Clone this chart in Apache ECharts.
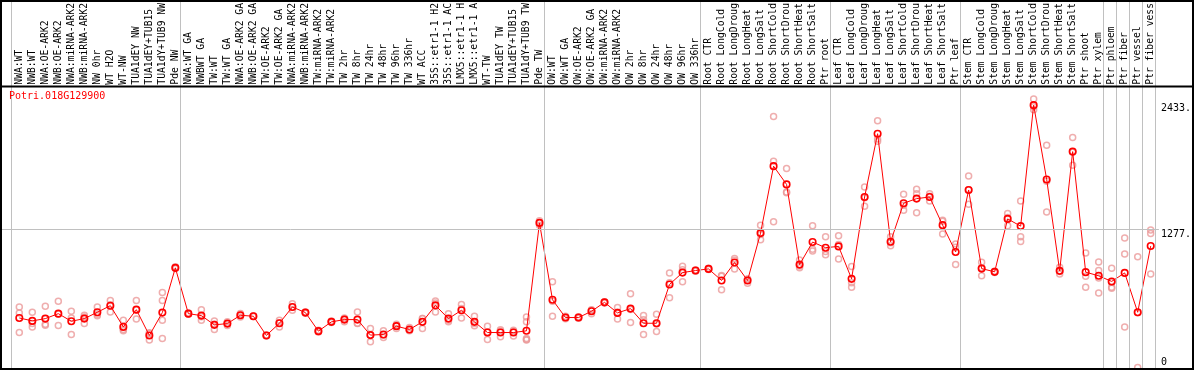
<!DOCTYPE html>
<html><head><meta charset="utf-8">
<script src="https://cdn.jsdelivr.net/npm/echarts@6/dist/echarts.min.js"></script>
<style>html,body{margin:0;padding:0;background:#fff}#c{width:1194px;height:370px}</style>
</head><body><div id="c"></div><script>
const geneId = 'Potri.018G129900';
const categories = [
 'NWA:WT','NWB:WT','NWA:OE-ARK2','NWB:OE-ARK2','NWA:miRNA-ARK2','NWB:miRNA-ARK2','NW 0hr','WT H2O','WT-NW','TUA1dEY NW','TUA1dEY+TUB15','TUA1dY+TUB9 NW','Pde NW',
 'NWA:WT GA','NWBWT GA','TW:WT','TW:WT GA','NWA:OE-ARK2 GA','NWB:OE-ARK2 GA','TW:OE-ARK2','TW:OE-ARK2 GA','NWA:miRNA-ARK2','NWB:miRNA-ARK2','TW:miRNA-ARK2','TW:miRNA-ARK2 ',
 'TW 2hr','TW 8hr','TW 24hr','TW 48hr','TW 96hr','TW 336hr','WT ACC','35S::etr1-1 H2','35S::etr1-1 AC','LMX5::etr1-1 H','LMX5::etr1-1 A','WT-TW','TUA1dEY TW','TUA1dEY+TUB15 ','TUA1dY+TUB9 TW','Pde TW',
 'OW:WT','OW:WT GA','OW:OE-ARK2','OW:OE-ARK2 GA','OW:miRNA-ARK2','OW:miRNA-ARK2 ','OW 2hr','OW 8hr','OW 24hr','OW 48hr','OW 96hr','OW 336hr',
 'Root CTR','Root LongCold','Root LongDroug','Root LongHeat','Root LongSalt','Root ShortCold','Root ShortDrou','Root ShortHeat','Root ShortSalt','Ptr root',
 'Leaf CTR','Leaf LongCold','Leaf LongDroug','Leaf LongHeat','Leaf LongSalt','Leaf ShortCold','Leaf ShortDrou','Leaf ShortHeat','Leaf ShortSalt','Ptr leaf',
 'Stem CTR','Stem LongCold','Stem LongDroug','Stem LongHeat','Stem LongSalt','Stem ShortCold','Stem ShortDrou','Stem ShortHeat','Stem ShortSalt','Ptr shoot','Ptr xylem',
 'Ptr phloem','Ptr fiber','Ptr vessel','Ptr fiber vess'
];
const groupSizes = [13, 28, 12, 10, 10, 11, 1, 1, 1, 1];
const means = [
 459,432,453,499,429,453,512,573,376,536,297,509,924,
 499,481,395,407,484,475,297,410,561,509,337,423,444,444,300,306,383,352,423,576,453,530,423,324,324,324,340,1341,
 628,463,463,521,604,506,546,410,410,770,880,899,
 914,807,973,807,1246,1867,1698,954,1163,1111,
 1123,822,1581,2168,1166,1523,1566,1581,1320,1071,
 1646,917,887,1378,1311,2433,1744,896,2002,884,850,
 798,877,512,1126
];
const replicates = [
 [561,506,324],[512,407,376],[567,400,392],[613,495,389],[521,459,306],[484,468,407],[561,493,480],[622,582,515],[438,352,340],[622,536,450],[254,321,316],[696,622,438,269],[935,920,917],
 [505,495,497],[536,470,438],[432,400,352],[425,407,390],[500,484,468],[478,475,472],[300,297,294],[438,415,376],[592,561,530],[515,509,503],[345,337,330],[430,423,416],[459,450,423],[515,410,407],
 [361,300,238],[340,300,278],[401,387,361],[370,346,340],[455,453,361],[616,597,515],[499,437,423],[585,546,459],[475,407,387],[383,329,260],[350,338,284],[345,336,291],[469,423,269,254,260],[1360,1345,1318],
 [794,615,475],[475,463,451],[470,463,456],[535,530,499],[610,604,598],[555,513,450],[684,538,416],[481,443,306],[493,404,333],[877,786,647],[939,907,794],[905,899,893],
 [920,914,908],[853,847,721],[1010,995,914],[820,818,782],[1320,1233,1185],[2328,1913,1351],[1846,1627,1621],[997,940,924],[1314,1096,1080],[1212,1075,1046],
 [1222,1140,1007],[936,785,745],[1673,1575,1495],[2288,2118,2098],[1212,1157,1129],[1606,1505,1458],[1652,1612,1434],[1612,1587,1544],[1366,1357,1237],[1145,1114,954],
 [1775,1649,1514],[976,925,850],[893,887,881],[1428,1392,1314],[1544,1212,1169],[2491,2418,2390],[2061,1728,1443],[930,890,868],[2134,1996,1876],[1062,845,745],[979,899,690,830],
 [920,790,745,735],[1200,1053,376],[1028,508,0],[1274,1243,868]
];
const yTickValues = [1277, 2433];
const yTickLabels = ['1277.', '2433.'];
const yZeroValue = [0];
const yZeroLabel = ['0'];
const gridlineValues = [1277];
const yMin = -5, yMax = 2586;

const FONT = 'DejaVu Sans Mono';
const boundaries = [0];
groupSizes.forEach(s => boundaries.push(boundaries[boundaries.length - 1] + s));
const repData = [];
replicates.forEach((arr, i) => arr.forEach(v => repData.push([i, v])));

const chart = echarts.init(document.getElementById('c'), null, {renderer: 'canvas'});
chart.setOption({
  animation: false,
  title: {text: geneId, left: 9, top: 91, padding: 0,
    textStyle: {color: '#ff0000', fontFamily: FONT, fontSize: 10, fontWeight: 'normal'}},
  grid: [
    {left: 11.3, right: 38.3, top: 0, bottom: 2},
    {left: 12.8, right: 36.8, top: 87, bottom: 2},
    {left: 1, right: 33, top: 87, bottom: 2}
  ],
  xAxis: [
    {gridIndex: 0, type: 'value', min: 0, max: categories.length, show: false},
    {gridIndex: 1, type: 'category', data: categories, position: 'top', boundaryGap: true,
      axisLine: {show: false}, axisTick: {show: false}, splitLine: {show: false},
      axisLabel: {interval: 0, rotate: 90, margin: 4, fontFamily: FONT, fontSize: 9.7, color: '#000'}},
    {gridIndex: 2, type: 'value', min: 0, max: 1, show: false}
  ],
  yAxis: [
    {gridIndex: 0, type: 'value', min: 0, max: 1, show: false},
    {gridIndex: 1, type: 'value', min: yMin, max: yMax, show: false},
    {gridIndex: 2, type: 'value', min: yMin, max: yMax, position: 'right',
      axisLine: {show: false}, axisTick: {show: false}, splitLine: {show: false},
      axisLabel: {customValues: yTickValues, formatter: v => yTickLabels[yTickValues.indexOf(v)],
        verticalAlign: 'top', margin: 2, fontFamily: FONT, fontSize: 10, color: '#000'}},
    {gridIndex: 2, type: 'value', min: yMin, max: yMax, position: 'right',
      axisLine: {show: false}, axisTick: {show: false}, splitLine: {show: false},
      axisLabel: {customValues: yZeroValue, formatter: v => yZeroLabel[yZeroValue.indexOf(v)],
        verticalAlign: 'bottom', margin: 2, fontFamily: FONT, fontSize: 10, color: '#000'}}
  ],
  graphic: [
    {type: 'rect', shape: {x: 1, y: 1, width: 1192, height: 368}, style: {fill: 'none', stroke: '#000', lineWidth: 2}, z: 100, silent: true},
    {type: 'line', shape: {x1: 0, y1: 86.5, x2: 1194, y2: 86.5}, style: {stroke: '#000', lineWidth: 2}, z: 100, silent: true}
  ],
  series: [
    {type: 'line', xAxisIndex: 0, yAxisIndex: 0, data: [], silent: true,
      markLine: {silent: true, symbol: ['none', 'none'], label: {show: false},
        lineStyle: {color: '#c0c0c0', width: 1, type: 'solid'},
        data: boundaries.map(b => ({xAxis: b}))}},
    {type: 'line', xAxisIndex: 2, yAxisIndex: 2, data: [], silent: true,
      markLine: {silent: true, symbol: ['none', 'none'], label: {show: false},
        lineStyle: {color: '#c0c0c0', width: 1, type: 'solid'},
        data: gridlineValues.map(v => ({yAxis: v}))}},
    {type: 'scatter', xAxisIndex: 1, yAxisIndex: 1, data: repData, symbol: 'circle', symbolSize: 6,
      itemStyle: {color: 'rgba(0,0,0,0)', borderColor: '#eb9a9a', borderWidth: 1.5}, z: 2, silent: true},
    {type: 'line', xAxisIndex: 1, yAxisIndex: 1, data: means, symbol: 'circle', symbolSize: 6.5, showAllSymbol: true,
      lineStyle: {color: '#ff0000', width: 1}, itemStyle: {color: 'rgba(0,0,0,0)', borderColor: '#ff0000', borderWidth: 1.6},
      z: 3, silent: true}
  ]
});
</script></body></html>
